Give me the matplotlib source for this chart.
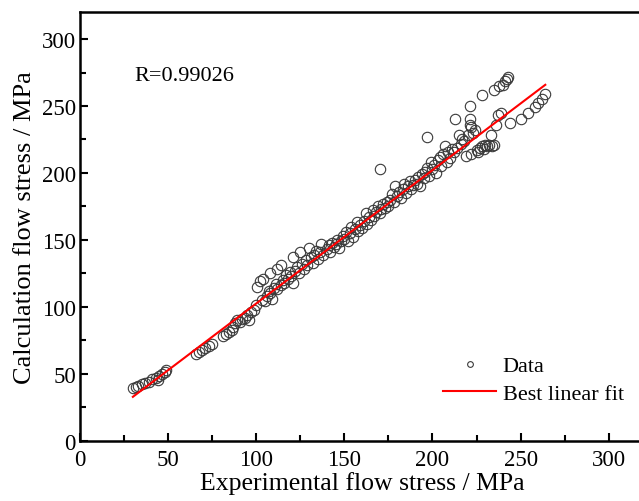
import numpy as np
import matplotlib.pyplot as plt
from matplotlib.ticker import MultipleLocator

plt.rcParams['font.family'] = ['Liberation Serif', 'DejaVu Serif']
plt.rcParams['mathtext.fontset'] = 'stix'

# experimental (x) vs calculated (y) flow stress, MPa
exp_low = [30, 31.5, 33, 35, 37, 39, 41, 43, 44.5, 45, 46.5, 48, 49,
           66, 67.5, 69, 71, 73, 75]
calc_low = [39, 40, 41, 42, 43, 44, 46, 47, 45.5, 48, 50, 51, 53,
            65, 66.5, 68, 69, 71, 72.5]

exp_mid = [81, 83, 84.5, 86, 87, 88, 89, 90.5, 92, 93.5, 95, 96, 97, 99, 100,
           100.5, 102, 104, 103, 105, 106, 107, 108, 108, 109, 110, 111, 112,
           112, 114, 114, 115, 116, 117, 118, 119, 120, 121, 121, 122, 123,
           124, 125, 126, 127, 128, 129, 130, 131, 132, 133, 134, 135, 136,
           137, 138, 140, 141, 142, 143, 144, 145, 146, 147, 148, 149, 150]
calc_mid = [78, 79.5, 81, 83, 85, 88, 90, 89, 91, 92, 94, 90.5, 96, 98, 101,
            115, 119, 121, 105, 104, 108, 112, 110, 125, 106, 114, 117, 113,
            128, 116, 131, 120, 118, 124, 121, 126, 123, 118, 137, 127, 130,
            125, 141, 132, 128, 135, 131, 144, 137, 133, 139, 142, 136, 141,
            147, 139, 143, 146, 141, 148, 145, 147, 150, 144, 149, 153, 151]

exp_high = [151, 152, 153, 154, 155, 156, 157, 158, 159, 160, 161, 162, 163,
            164, 165, 166, 167, 168, 169, 170, 170, 171, 172, 173, 174, 175,
            176, 177, 178, 179, 180, 181, 182, 183, 184, 185, 186, 187, 188,
            189, 190, 191, 192, 193, 194, 195, 196, 197, 197, 198, 199, 200]
calc_high = [156, 149, 155, 160, 152, 158, 163, 157, 161, 159, 164, 170, 162,
             167, 165, 172, 168, 171, 175, 203, 170, 173, 177, 174, 178, 175,
             180, 184, 178, 190, 183, 186, 181, 188, 192, 185, 190, 194, 188,
             191, 195, 192, 197, 190, 199, 196, 201, 227, 204, 198, 208, 203]

exp_top = [201, 202, 203, 204, 205, 206, 207, 208, 209, 210, 211, 212, 213,
           214, 215, 216, 217, 218, 219, 220, 221, 221, 221, 222, 222, 223,
           224, 225, 226, 227, 228, 228, 229, 230, 231, 232, 233, 234, 235,
           235, 236, 237, 238, 239, 240, 241, 242, 243, 244, 250, 254, 258,
           260, 262, 264]
calc_top = [206, 200, 210, 212, 205, 214, 220, 208, 216, 211, 218, 216, 240,
            219, 228, 222, 225, 224, 213, 228, 240, 236, 250, 234, 214, 230,
            232, 217, 216, 219, 258, 220, 218, 221, 220, 221, 228, 220, 262,
            221, 236, 243, 265, 245, 266, 269, 270, 272, 237, 240, 245, 249,
            252, 255, 259]

exp_stress = np.array(exp_low + exp_mid + exp_high + exp_top, dtype=float)
calc_stress = np.array(calc_low + calc_mid + calc_high + calc_top, dtype=float)

fit_slope, fit_intercept = 0.996, 2.9
r_value = 0.99026

fig = plt.figure(figsize=(6.39, 5.02), dpi=100)
ax = fig.add_axes([0.1252, 0.1201, 0.8826, 0.8534])

ax.plot(exp_stress, calc_stress, 'o', ms=7.5, mfc='none', mec='#3a3a3a',
        mew=0.8, label='Data')
xf = np.array([exp_stress.min(), exp_stress.max()])
ax.plot(xf, fit_slope * xf + fit_intercept, color='red', lw=1.5,
        label='Best linear fit')

ax.set_xlim(0, 320)
ax.set_ylim(0, 320)
ax.xaxis.set_major_locator(MultipleLocator(50))
ax.xaxis.set_minor_locator(MultipleLocator(25))
ax.yaxis.set_major_locator(MultipleLocator(50))
ax.yaxis.set_minor_locator(MultipleLocator(25))
ax.tick_params(which='both', direction='in', width=1.5, labelsize=16.5,
               top=False, right=False)
ax.tick_params(which='major', length=6)
ax.tick_params(which='minor', length=4)
ax.tick_params(axis='x', pad=6)
ax.tick_params(axis='y', pad=3)
for s in ax.spines.values():
    s.set_linewidth(1.8)

ax.set_xlabel('Experimental flow stress / MPa', fontsize=18.5, labelpad=1)
ax.set_ylabel('Calculation flow stress / MPa', fontsize=19, labelpad=4)
ax.text(31, 273, 'R=%.5f' % r_value, fontsize=16, va='center')

leg = ax.legend(loc='lower right', bbox_to_anchor=(1.0, 0.04),
                frameon=False, fontsize=16, markerscale=0.55,
                handlelength=2.4, labelspacing=0.3, handletextpad=0.3)

fig.savefig('out.png', dpi=100)
